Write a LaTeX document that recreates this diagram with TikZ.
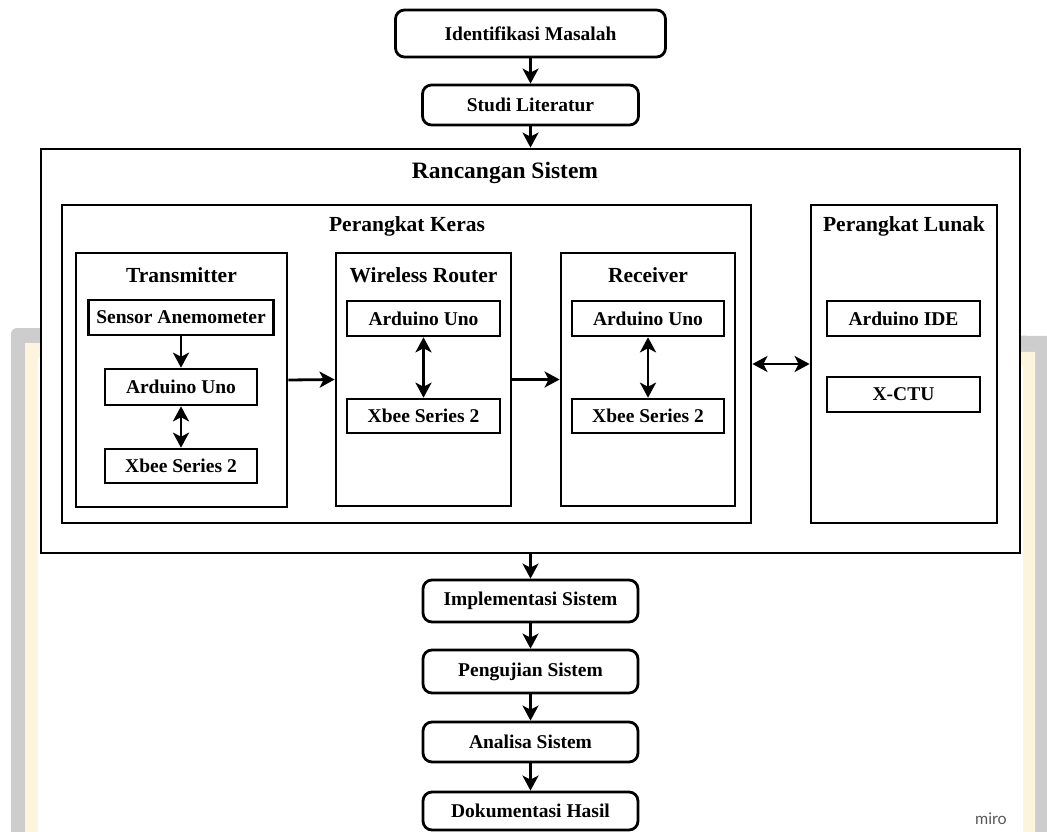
\documentclass[tikz,border=0pt]{standalone}
\usepackage{fontspec}
\setmainfont{Liberation Serif}
\setsansfont{Lato}
\usetikzlibrary{arrows.meta}
\definecolor{bggrey}{RGB}{205,205,205}
\definecolor{cream}{RGB}{253,244,222}
\begin{document}
\begin{tikzpicture}[x=1pt,y=-1pt,
  flow/.style={draw, line width=2.8pt, rounded corners=9pt, fill=white, inner sep=0pt,
    font=\fontsize{19.5}{20}\selectfont\bfseries},
  panel/.style={draw, line width=2.8pt, fill=white, inner sep=0pt},
  item/.style={draw, line width=2.6pt, fill=white, inner sep=0pt,
    font=\fontsize{19.5}{20}\selectfont\bfseries},
  ttl/.style={inner sep=0pt, font=\fontsize{21.5}{22}\selectfont\bfseries},
  bigttl/.style={inner sep=0pt, font=\fontsize{23.5}{24}\selectfont\bfseries},
  arr/.style={line width=2.8pt, -{Stealth[length=15pt,width=16pt,inset=4pt]}},
  darr/.style={line width=2.8pt, {Stealth[length=15pt,width=16pt,inset=4pt]}-{Stealth[length=15pt,width=16pt,inset=4pt]}},
]
\useasboundingbox (0,0) rectangle (1047,832);
\clip (0,0) rectangle (1047,832);
% background page
\fill[bggrey, rounded corners=6pt] (11,328) -- (1060,336) -- (1060,850) -- (11,850) -- cycle;
\fill[cream] (25,343) -- (1035,352) -- (1035,850) -- (25,850) -- cycle;
\fill[white] (38,357) -- (1023,366) -- (1023,850) -- (38,850) -- cycle;

% main flow (top)
\node[flow, minimum width=270pt, minimum height=47pt] (ident) at (530.5,33.5) {Identifikasi Masalah};
\node[flow, minimum width=216pt, minimum height=40pt] (studi) at (530.5,105) {Studi Literatur};

% Rancangan Sistem
\node[panel, minimum width=979pt, minimum height=404pt] (ranc) at (530.5,351) {};
\node[bigttl] (rancT) at (505,173) {Rancangan Sistem};

\node[panel, minimum width=689pt, minimum height=318pt] (keras) at (406.5,364) {};
\node[ttl] (kerasT) at (407,226) {Perangkat Keras};

\node[panel, minimum width=186pt, minimum height=318pt] (lunak) at (904,364) {};
\node[ttl] (lunakT) at (904,226) {Perangkat Lunak};

% Transmitter
\node[panel, minimum width=211pt, minimum height=254pt] (tx) at (181.5,380) {};
\node[ttl] (txT) at (181.5,275) {Transmitter};
\node[item, minimum width=185pt, minimum height=35pt] (sensor) at (181,317.5) {Sensor Anemometer};
\node[item, minimum width=152pt, minimum height=36pt] (txard) at (181,387) {Arduino Uno};
\node[item, minimum width=152pt, minimum height=34pt] (txxb) at (181,466) {Xbee Series 2};

% Wireless Router
\node[panel, minimum width=175pt, minimum height=253pt] (wr) at (423.5,379.5) {};
\node[ttl] (wrT) at (423.5,275) {Wireless Router};
\node[item, minimum width=153pt, minimum height=35pt] (wrard) at (423.5,318.5) {Arduino Uno};
\node[item, minimum width=153pt, minimum height=34pt] (wrxb) at (423.5,416) {Xbee Series 2};

% Receiver
\node[panel, minimum width=174pt, minimum height=253pt] (rx) at (648,379.5) {};
\node[ttl] (rxT) at (648,275) {Receiver};
\node[item, minimum width=152pt, minimum height=35pt] (rxard) at (648,318.5) {Arduino Uno};
\node[item, minimum width=152pt, minimum height=34pt] (rxxb) at (648,416) {Xbee Series 2};

% Perangkat Lunak items
\node[item, minimum width=153pt, minimum height=35pt] (ide) at (903.5,318.5) {Arduino IDE};
\node[item, minimum width=153pt, minimum height=35pt] (xctu) at (903.5,394.5) {X-CTU};

% main flow (bottom)
\node[flow, minimum width=215pt, minimum height=42pt] (impl) at (530.5,601) {Implementasi Sistem};
\node[flow, minimum width=215pt, minimum height=43pt] (peng) at (530.5,671.5) {Pengujian Sistem};
\node[flow, minimum width=215pt, minimum height=40pt] (anal) at (530.5,742) {Analisa Sistem};
\node[flow, minimum width=215pt, minimum height=38pt] (dok) at (530.5,811) {Dokumentasi Hasil};

% connectors
\draw[arr] (ident.south) -- (studi.north);
\draw[arr] (studi.south) -- (ranc.north -| studi.south);
\draw[arr] (ranc.south -| impl.north) -- (impl.north);
\draw[arr] (impl) -- (peng);
\draw[arr] (peng) -- (anal);
\draw[arr] (anal) -- (dok);

\draw[arr] (sensor) -- (txard);
\draw[darr] (txard) -- (txxb);
\draw[darr] (wrard) -- (wrxb);
\draw[darr] (rxard) -- (rxxb);
\draw[arr] (tx.east) -- (wr.west);
\draw[arr] (wr.east) -- (rx.west);
\draw[darr] (keras.east) -- (lunak.west);

\node[font=\sffamily\fontsize{16}{16}\selectfont, text=black!65] (miro) at (991,819) {miro};
\end{tikzpicture}
\end{document}
